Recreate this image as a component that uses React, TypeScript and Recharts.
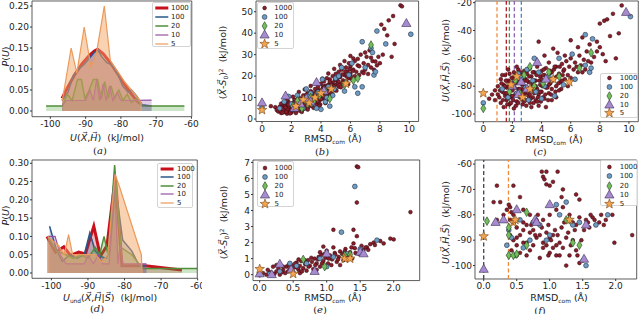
import React from 'react';
import {
  ComposedChart,
  ScatterChart,
  Area,
  Scatter,
  XAxis,
  YAxis,
  ReferenceArea,
  ReferenceLine,
  Legend,
} from 'recharts';

type Pt = [number, number];

const SERIES = ['1000', '100', '20', '10', '5'];

// (a) P(U) for U(X,H)
const A_1000: Pt[] = [[-96.7, 0.03], [-95, 0.058], [-93, 0.088], [-91, 0.113], [-89, 0.132], [-87.5, 0.143], [-86.6, 0.147], [-85, 0.136], [-83, 0.115], [-81, 0.09], [-79, 0.064], [-77, 0.04], [-75.5, 0.024], [-74.5, 0.018]];
const A_100: Pt[] = [[-96.7, 0.025], [-95, 0.045], [-93.5, 0.085], [-92, 0.1], [-90.5, 0.11], [-89, 0.125], [-87.5, 0.14], [-86.5, 0.145], [-85.5, 0.13], [-84, 0.115], [-82.5, 0.11], [-81, 0.09], [-79.5, 0.06], [-78, 0.045], [-77, 0.05], [-75.5, 0.035], [-74, 0.015], [-71.3, 0.012]];
const A_20: Pt[] = [[-101.2, 0.012], [-96.6, 0.012], [-95.2, 0.04], [-93.8, 0.025], [-92.3, 0.075], [-91.2, 0.075], [-90.2, 0.03], [-89, 0.05], [-87.8, 0.075], [-86.6, 0.075], [-85.6, 0.028], [-84.6, 0.07], [-83.6, 0.03], [-82.8, 0.06], [-81.8, 0.03], [-80.6, 0.05], [-79.4, 0.025], [-78.2, 0.04], [-77, 0.02], [-75.5, 0.03], [-74, 0.012], [-62, 0.012]];
const A_10: Pt[] = [[-96.6, 0.012], [-95.5, 0.025], [-90, 0.025], [-88.8, 0.05], [-87.8, 0.025], [-86.9, 0.075], [-86, 0.025], [-85, 0.065], [-84.2, 0.025], [-83.2, 0.06], [-82.3, 0.025], [-81, 0.045], [-80, 0.025], [-71.3, 0.026]];
const A_5: Pt[] = [[-96.6, 0.025], [-94.1, 0.15], [-92.5, 0.09], [-90.4, 0.2], [-88.5, 0.105], [-87, 0.135], [-84.7, 0.25], [-83, 0.12], [-81, 0.095], [-79, 0.07], [-77, 0.05], [-75, 0.03], [-74, 0.015]];

// (d) P(U) for U_und(X,H|S)
const D_1000: Pt[] = [[-101.2, 0.1], [-98.9, 0.057], [-96.6, 0.072], [-94.8, 0.048], [-92.5, 0.057], [-90.7, 0.052], [-88.4, 0.128], [-86.6, 0.046], [-84.8, 0.075], [-82.5, 0.262], [-80.7, 0.02], [-74.3, 0.02], [-64.3, 0.008]];
const D_100: Pt[] = [[-100.5, 0.128], [-98.5, 0.06], [-97, 0.032], [-95, 0.05], [-93, 0.04], [-91, 0.05], [-89.5, 0.11], [-88, 0.06], [-86.5, 0.045], [-85, 0.04], [-84, 0.06], [-82.5, 0.24], [-80.5, 0.09], [-78, 0.06], [-76, 0.02], [-74, 0.02]];
const D_20: Pt[] = [[-101, 0.1], [-98.5, 0.06], [-96, 0.05], [-94, 0.04], [-92, 0.05], [-90, 0.04], [-88, 0.07], [-86.8, 0.05], [-85.6, 0.1], [-84.5, 0.05], [-82.7, 0.295], [-81, 0.07], [-78, 0.05], [-75, 0.012], [-60.1, 0.012]];
const D_10: Pt[] = [[-101, 0.1], [-99, 0.1], [-97.5, 0.05], [-96, 0.025], [-91, 0.025], [-90, 0.05], [-88.5, 0.025], [-87.2, 0.05], [-86, 0.025], [-84.2, 0.025], [-82.8, 0.27], [-81.8, 0.025], [-81.2, 0.075], [-80.4, 0.025], [-74, 0.025]];
const D_5: Pt[] = [[-101, 0.1], [-98, 0.075], [-96.5, 0.05], [-95.3, 0.105], [-94.2, 0.05], [-90, 0.05], [-88, 0.05], [-86.2, 0.03], [-84.6, 0.05], [-82.6, 0.27], [-81.5, 0.24], [-75.4, 0.05], [-75.2, 0.0]];

// (b) (X-S0)^2 vs RMSD
const B_1000: Pt[] = [
  [0.6, 6], [0.9, 5.5], [1.0, 4.2], [1.1, 3.5], [1.2, 5.8], [1.3, 2.8], [1.3, 4.5], [1.4, 6.5], [1.5, 3.2], [1.5, 5],
  [1.6, 4], [1.6, 7], [1.7, 2.5], [1.7, 5.5], [1.8, 3.8], [1.8, 8], [1.9, 4.8], [1.9, 6.5], [2.0, 3], [2.0, 5.6],
  [2.1, 7.5], [2.1, 4.2], [2.2, 9], [2.2, 6], [2.3, 3.5], [2.3, 5], [2.4, 8.2], [2.4, 6.8], [2.5, 4.6], [2.5, 10],
  [2.6, 7], [2.6, 5.5], [2.7, 9.5], [2.7, 4], [2.8, 8], [2.8, 11], [2.9, 6], [2.9, 7.5], [3.0, 9], [3.0, 5],
  [3.1, 12], [3.1, 8.5], [3.2, 6.5], [3.2, 10.5], [3.3, 7.8], [3.3, 13], [3.4, 9.5], [3.4, 6], [3.5, 11], [3.5, 8],
  [3.6, 14], [3.6, 9.8], [3.7, 7], [3.7, 12.5], [3.8, 10.5], [3.8, 15], [3.9, 8.5], [3.9, 13.5], [4.0, 11], [4.0, 16.5],
  [4.1, 9.5], [4.1, 14], [4.2, 12], [4.2, 17.5], [4.3, 10], [4.3, 15.5], [4.4, 13], [4.4, 19], [4.5, 11.5], [4.5, 16],
  [4.6, 14.5], [4.6, 18.5], [4.7, 12.5], [4.8, 17], [4.8, 20], [4.9, 13.5], [5.0, 16], [5.0, 21], [5.1, 18], [5.2, 15],
  [5.2, 22], [5.3, 19.5], [5.4, 16.5], [5.4, 23], [5.5, 18], [5.6, 20.5], [5.7, 24], [5.7, 17.5], [5.8, 22], [5.9, 19],
  [5.9, 26], [6.0, 21], [6.0, 24.5], [6.1, 18.5], [6.2, 23], [6.3, 27], [6.3, 20], [6.4, 22], [6.5, 25], [6.5, 28],
  [6.6, 20.5], [6.7, 30], [6.8, 22], [6.9, 26], [7.0, 31], [7.0, 23], [7.1, 29], [7.2, 21], [7.3, 32], [7.4, 24],
  [7.5, 27], [7.6, 23], [7.8, 25], [7.9, 29], [8.0, 26], [8.1, 44], [8.2, 30], [8.3, 42], [8.5, 39], [8.6, 46],
  [8.8, 29], [8.9, 48], [9.0, 35], [9.4, 53], [9.5, 52.5],
  [1.25, 3.8], [1.35, 5.2], [1.45, 4.2], [1.55, 6], [1.65, 3.4], [1.75, 4.6], [1.85, 5.8], [1.95, 3.6], [2.05, 6.8], [2.15, 5.1],
  [2.25, 4.0], [2.35, 7.2], [2.45, 5.6], [2.55, 3.9], [2.65, 8.6], [2.75, 6.2], [2.85, 4.8], [2.95, 10.2], [3.05, 7.2], [3.15, 5.6],
  [3.25, 9.2], [3.35, 11.6], [3.45, 7.4], [3.55, 9.8], [3.65, 12.2], [3.75, 8.2], [3.85, 10.9], [3.95, 6.8], [4.05, 12.8], [4.15, 15.2],
  [4.25, 10.8], [4.35, 13.6], [4.45, 9.2], [4.55, 14.2], [4.65, 16.8], [4.75, 11.2], [4.85, 15.4], [4.95, 18.2], [5.05, 13.2], [5.15, 16.6],
  [5.25, 19.8], [5.35, 14.8], [5.45, 20.8], [5.55, 17.2], [5.65, 22.2], [5.75, 19.8], [5.85, 16.2], [5.95, 23.2], [6.05, 19.6], [6.15, 22.4],
  [1.4, 3.0], [1.6, 5.4], [1.8, 6.6], [2.0, 4.4], [2.2, 7.8], [2.4, 4.8], [2.6, 9.2], [2.8, 6.6], [3.0, 11.4], [3.2, 8.2],
  [3.4, 12.4], [3.6, 7.8], [3.8, 13.2], [4.0, 9.4], [4.2, 14.6], [4.4, 11.6], [4.6, 17.4], [4.8, 14.6], [5.0, 18.6], [5.2, 17.4],
  [1.9, 2.6], [2.3, 2.8], [2.7, 3.3], [3.1, 4.4], [3.5, 5.2], [3.9, 6.2], [4.3, 7.4], [1.3, 7.2], [1.7, 8.8], [2.1, 10.4],
  [2.5, 12.6], [2.9, 13.8], [3.3, 15.4], [3.7, 16.6], [4.1, 18.8], [4.5, 21.2], [4.9, 23.4], [5.3, 25.2], [6.6, 24.6], [6.9, 21.4],
  [7.2, 25.2], [7.4, 28.6], [7.7, 26.8], [6.2, 28.2], [6.0, 29.4], [5.6, 27.0],
];
const B_100: Pt[] = [
  [0, 5.5], [1.2, 5], [1.5, 8], [1.8, 10.5], [2.0, 7], [2.2, 6.5], [2.5, 9], [2.8, 5], [3.0, 14], [3.2, 11],
  [3.4, 7], [3.6, 9.5], [3.8, 12.5], [4.0, 4.5], [4.1, 18.5], [4.3, 8], [4.5, 15], [4.6, 6], [4.8, 11], [4.9, 14],
  [5.0, 19], [5.2, 20], [5.4, 24], [5.6, 13], [5.7, 17], [5.9, 20.5], [6.1, 26], [6.3, 15], [6.5, 12], [6.8, 15],
  [6.8, 36], [7.0, 24], [7.4, 33], [7.5, 31], [7.6, 20.5], [7.7, 22], [7.8, 41], [8.4, 35], [10.1, 39.5], [3.3, 12],
  [2.4, 11], [3.7, 5], [4.4, 10],
];
const B_20: Pt[] = [[2.1, 6], [2.4, 8.5], [2.7, 5], [2.9, 9], [3.1, 7], [3.3, 10], [3.5, 8], [3.9, 11], [4.3, 13], [4.6, 9.5], [5.6, 16], [6.2, 18], [6.5, 19], [7.4, 34.5]];
const B_10: Pt[] = [[0, 7.5], [1.6, 10.7], [2.2, 5], [2.6, 7], [3.0, 9.5], [3.3, 8], [3.7, 17], [4.2, 13], [9.8, 44.5]];
const B_5: Pt[] = [[0, 4.2], [2.3, 6], [2.8, 9], [3.2, 7.5], [3.6, 10], [4.0, 12], [4.7, 14], [5.7, 16.5]];

// (c) U(X,H,S) vs RMSD
const C_1000: Pt[] = [
  [0.4, -89], [0.6, -86], [0.8, -83], [1.0, -80], [1.1, -88], [1.2, -75], [1.2, -92], [1.3, -84], [1.4, -79], [1.4, -95],
  [1.5, -72], [1.5, -87], [1.6, -81], [1.6, -90], [1.7, -76], [1.7, -85], [1.8, -71], [1.8, -93], [1.9, -79], [1.9, -88],
  [2.0, -74], [2.0, -83], [2.1, -96], [2.1, -70], [2.2, -86], [2.2, -78], [2.3, -91], [2.3, -73], [2.4, -82], [2.4, -68],
  [2.5, -88], [2.5, -77], [2.6, -72], [2.6, -84], [2.7, -93], [2.7, -79], [2.8, -69], [2.8, -86], [2.9, -75], [2.9, -90],
  [3.0, -81], [3.0, -71], [3.1, -87], [3.1, -77], [3.2, -67], [3.2, -92], [3.3, -83], [3.3, -73], [3.4, -79], [3.4, -88],
  [3.5, -70], [3.5, -85], [3.6, -76], [3.6, -90], [3.7, -82], [3.7, -66], [3.8, -48], [3.8, -86], [3.9, -73], [3.9, -79],
  [4.0, -69], [4.0, -84], [4.1, -77], [4.1, -88], [4.2, -58], [4.2, -72], [4.3, -81], [4.3, -67], [4.4, -75], [4.5, -85],
  [4.5, -63], [4.6, -78], [4.7, -70], [4.7, -82], [4.8, -53], [4.9, -74], [5.0, -66], [5.0, -80], [5.1, -56], [5.2, -71],
  [5.3, -77], [5.4, -64], [5.5, -69], [5.6, -58], [5.6, -75], [5.7, -62], [5.8, -72], [5.9, -66], [6.0, -47], [6.0, -60],
  [6.2, -68], [6.3, -63], [6.5, -52], [6.5, -70], [6.6, -58], [6.7, -65], [6.8, -45], [6.9, -61], [7.0, -68], [7.1, -55],
  [7.3, -50], [7.4, -63], [7.6, -59], [7.8, -48], [7.8, -55], [8.0, -52], [8.0, -35], [8.2, -57], [8.3, -33], [8.4, -62],
  [8.5, -32], [8.7, -44], [8.9, -28], [9.1, -60], [9.3, -42], [9.5, -22],
  [1.15, -83], [1.25, -78], [1.35, -90], [1.45, -85], [1.55, -76], [1.65, -93], [1.75, -80], [1.85, -87], [1.95, -74], [2.05, -90],
  [2.15, -81], [2.25, -94], [2.35, -77], [2.45, -85], [2.55, -70], [2.65, -89], [2.75, -82], [2.85, -76], [2.95, -94], [3.05, -85],
  [3.15, -73], [3.25, -89], [3.35, -78], [3.45, -92], [3.55, -81], [3.65, -72], [3.75, -88], [3.85, -76], [3.95, -91], [4.05, -80],
  [4.15, -68], [4.25, -86], [4.35, -74], [4.45, -90], [4.55, -71], [4.65, -86], [4.75, -76], [4.85, -68], [4.95, -84], [5.05, -73],
  [5.15, -78], [5.25, -66], [5.35, -82], [5.45, -72], [5.55, -68], [1.3, -72], [1.5, -80], [1.7, -68], [1.9, -92], [2.1, -77],
  [2.3, -66], [2.5, -82], [2.7, -74], [2.9, -84], [3.1, -68], [3.3, -95], [3.5, -76], [3.7, -91], [3.9, -84], [4.1, -72],
  [4.3, -95], [4.5, -79], [4.7, -90], [4.9, -66], [1.6, -85], [1.8, -77], [2.0, -87], [2.2, -73], [2.4, -92], [2.6, -78],
  [2.8, -91], [3.0, -76], [3.2, -86], [3.4, -70], [3.6, -80], [3.8, -94], [4.0, -75], [4.2, -89], [4.4, -81], [4.6, -69],
  [5.0, -88], [5.2, -83], [5.4, -76], [5.8, -80], [6.0, -74], [6.4, -66], [6.8, -70], [7.2, -62], [1.0, -86], [0.8, -90],
];
const C_100: Pt[] = [
  [0, -92], [1.3, -82], [1.7, -88], [2.0, -79], [2.3, -85], [2.6, -74], [2.9, -81], [3.1, -90], [3.4, -76], [3.6, -84],
  [3.8, -70], [4.0, -89], [4.2, -80], [4.5, -73], [4.9, -87], [5.2, -60], [5.5, -79], [3.5, -60], [6.1, -57], [6.3, -75],
  [7.0, -43], [7.0, -65], [7.3, -70], [7.5, -46], [7.4, -67], [10.1, -30], [2.4, -71], [3.0, -68],
];
const C_20: Pt[] = [[0, -96], [1.8, -84], [2.2, -76], [2.5, -85], [2.8, -72], [3.2, -66], [3.5, -80], [4.1, -78], [4.5, -70], [5.2, -73], [6.6, -67], [7.4, -56]];
const C_10: Pt[] = [[2.0, -80], [2.4, -86], [2.6, -77], [3.0, -82], [3.7, -63], [4.3, -75], [9.8, -27]];
const C_5: Pt[] = [[0, -85], [1.9, -79], [2.3, -73], [2.7, -88], [3.2, -82], [4.8, -75], [5.9, -77]];
const C_CUTS = [0.94, 1.58, 1.79, 2.13, 2.61];

// (e) (X-S0)^2 vs RMSD, small set
const E_1000: Pt[] = [
  [0.05, 0.1], [0.1, 0.0], [0.15, 0.15], [0.2, 0.5], [0.22, 0.05], [0.25, 0.2], [0.3, 0.0], [0.35, 0.3], [0.38, 0.1], [0.4, 0.5],
  [0.42, 0.2], [0.45, 0.35], [0.48, 0.6], [0.5, 0.15], [0.52, 0.45], [0.55, 0.75], [0.58, 0.3], [0.6, 0.55], [0.62, 0.85], [0.65, 0.4],
  [0.68, 0.65], [0.7, 0.25], [0.72, 0.9], [0.75, 0.55], [0.78, 0.8], [0.8, 0.35], [0.82, 1.0], [0.85, 0.7], [0.88, 1.1], [0.9, 0.5],
  [0.92, 1.25], [0.95, 0.85], [0.95, 1.75], [0.98, 1.05], [1.0, 1.5], [1.02, 0.7], [1.05, 1.2], [1.08, 0.95], [1.1, 2.8], [1.12, 1.35],
  [1.15, 0.8], [1.18, 1.1], [1.2, 1.45], [1.25, 0.9], [1.28, 1.6], [1.3, 1.15], [1.35, 1.4], [1.38, 1.0], [1.4, 2.8], [1.4, 1.95],
  [1.42, 1.65], [1.45, 6.75], [1.47, 6.7], [1.45, 4.5], [1.45, 2.4], [1.48, 1.3], [1.52, 1.8], [1.55, 1.55], [1.6, 1.7], [1.65, 1.9],
  [1.7, 2.0], [1.72, 1.85], [1.8, 2.1], [1.85, 1.95], [1.95, 2.25], [2.0, 2.2], [2.25, 3.9], [0.35, 0.5], [0.6, 0.1], [0.85, 0.3],
  [0.12, 0.3], [0.18, 0.1], [0.28, 0.4], [0.33, 0.15], [0.43, 0.6], [0.47, 0.25], [0.53, 0.7], [0.57, 0.4], [0.63, 0.2], [0.67, 0.9],
  [0.73, 0.5], [0.77, 1.05], [0.83, 0.6], [0.87, 0.95], [0.93, 0.7], [0.97, 1.3], [1.03, 1.0], [1.07, 0.6], [1.13, 1.25], [1.17, 0.95],
  [1.23, 1.3], [1.27, 1.45], [1.33, 1.15], [1.37, 1.7], [1.43, 1.35], [1.5, 1.5], [1.58, 1.7], [1.62, 1.55], [0.25, 0.6], [0.58, 0.95],
  [0.9, 1.4], [1.1, 1.7], [1.2, 0.6],
];
const E_100: Pt[] = [[0, 0], [0.15, 0.05], [0.3, 0.2], [0.45, 0.7], [0.55, 0.55], [0.7, 0.7], [0.9, 1.0], [1.0, 0.5], [1.1, 1.1], [1.22, 2.65], [1.3, 1.3], [1.42, 5.5], [1.5, 1.6], [1.75, 2.15]];
const E_20: Pt[] = [[0.0, 0.1], [0.65, 0.95], [0.97, 0.5], [1.27, 1.2], [1.35, 1.25]];
const E_10: Pt[] = [[0.0, 0.05], [0.18, 0.0], [0.3, 0.65], [0.47, 0.3], [0.82, 0.2], [1.0, 1.3], [1.5, 1.4], [1.55, 1.3]];
const E_5: Pt[] = [[0.0, 0.35], [0.5, 0.05], [1.27, 1.0], [1.35, 1.0]];

// (f) U(X,H,S) vs RMSD, small set
const F_1000: Pt[] = [
  [0.2, -68.5], [0.45, -68.5], [0.88, -63], [0.95, -63], [1.12, -63], [0.9, -65], [0.92, -66], [0.95, -68], [1.0, -68.5], [1.05, -67],
  [1.2, -70], [1.18, -73], [1.4, -72], [1.45, -74], [0.55, -73], [0.4, -77], [0.35, -78], [0.15, -75], [0.25, -75], [0.38, -76],
  [0.45, -80], [0.6, -78], [0.7, -80], [0.8, -82], [0.9, -82], [1.0, -80], [1.1, -78], [1.2, -77], [1.3, -80], [1.35, -83],
  [1.45, -81], [1.55, -82], [1.65, -81], [1.75, -83], [1.85, -82], [1.95, -80], [1.7, -84], [1.6, -85], [1.4, -84], [0.5, -85],
  [0.55, -88], [0.6, -86], [0.65, -84], [0.7, -87], [0.75, -86], [0.8, -89], [0.85, -88], [0.9, -91], [0.95, -87], [1.0, -89],
  [1.02, -90], [1.05, -88], [1.08, -86], [1.1, -92], [1.15, -91], [1.2, -93], [1.25, -89], [1.3, -96], [1.35, -90], [1.4, -94],
  [1.45, -99], [1.0, -95], [0.85, -97], [0.75, -92], [0.6, -91], [0.5, -92], [0.42, -94], [0.38, -96], [0.4, -88], [0.45, -90],
  [0.5, -96], [1.1, -96], [1.15, -96], [1.25, -100], [1.98, -91], [2.25, -88], [0.2, -82], [0.3, -80], [0.65, -91], [0.9, -93],
  [0.4, -82], [0.42, -79], [0.5, -89], [0.55, -95], [0.6, -83], [0.7, -94], [0.72, -84], [0.78, -88], [0.82, -80], [0.88, -85],
  [0.95, -92], [0.98, -84], [1.05, -93], [1.12, -88], [1.18, -85], [1.22, -83], [1.28, -87], [1.32, -92], [1.38, -86], [1.42, -96],
  [1.5, -98], [1.48, -90], [1.52, -86], [1.58, -83], [1.62, -80], [1.68, -82], [1.78, -80], [1.82, -84], [0.65, -96], [0.98, -96],
];
const F_100: Pt[] = [[0.35, -92], [0.38, -86], [0.42, -89], [0.48, -96], [0.55, -82], [0.6, -93], [0.75, -83], [0.85, -84], [0.95, -90], [1.0, -88], [1.1, -76], [1.15, -80], [1.25, -75], [1.35, -84], [1.45, -83], [1.55, -100], [1.7, -84], [1.88, -80], [0.45, -83], [0.7, -90]];
const F_20: Pt[] = [[0.05, -82.5], [0.38, -85], [0.38, -88], [0.38, -96], [0.45, -96], [0.5, -95.5], [0.65, -79], [0.65, -92], [1.25, -82], [1.3, -82], [1.45, -92], [1.35, -91]];
const F_10: Pt[] = [[0.0, -101.5], [0.18, -83], [0.3, -82], [0.5, -78], [0.78, -82], [0.8, -83], [1.0, -76], [1.55, -84], [1.52, -97.5]];
const F_5: Pt[] = [[0.0, -88.5], [0.45, -83], [0.48, -82], [1.3, -82]];
const F_CUTS = [0.0, 0.375];

// ---- styling ----
const LINE_STYLE: Record<string, { stroke: string; fill: string; width: number; alpha: number }> = {
  '1000': { stroke: '#c8101c', fill: '#c8101c', width: 3, alpha: 0.28 },
  '100': { stroke: '#2a5788', fill: '#2a5788', width: 1.5, alpha: 0.28 },
  '20': { stroke: '#4f8f3a', fill: '#5aa845', width: 1.5, alpha: 0.3 },
  '10': { stroke: '#9350a3', fill: '#9350a3', width: 1.2, alpha: 0.28 },
  '5': { stroke: '#eb9a5c', fill: '#f3a565', width: 1.2, alpha: 0.5 },
};
const C_CUT_COLORS = ['#f08a3a', '#b0182a', '#3f9a3f', '#9260b0', '#4f80bf'];
const F_CUT_COLORS = ['#3c4452', '#f08a3a'];

const YW = 30;
const MT = 4;
const XH = 18;
const FONT = 'DejaVu Sans';
const TICK = { fontSize: 9, fill: '#222', fontFamily: FONT };

type Box = { x: number; y: number; w: number; h: number };
type LegendSpec = { x: number; y: number; w: number; h: number; row0: number; step: number; mx: number; tx: number };

function starPath(cx: number, cy: number, r: number) {
  const pts: string[] = [];
  for (let i = 0; i < 10; i++) {
    const rad = i % 2 === 0 ? r : r * 0.42;
    const a = -Math.PI / 2 + (i * Math.PI) / 5;
    pts.push(`${cx + rad * Math.cos(a)},${cy + rad * Math.sin(a)}`);
  }
  return `M${pts.join('L')}Z`;
}

function marker(name: string) {
  return (p: any) => {
    const { cx, cy } = p;
    if (cx == null || cy == null) return <g />;
    switch (name) {
      case '1000':
        return <circle cx={cx} cy={cy} r={1.9} fill="#8b1d2b" stroke="#2b0a0f" strokeWidth={0.5} />;
      case '100':
        return <circle cx={cx} cy={cy} r={2.4} fill="#6f9cc4" stroke="#1f2d42" strokeWidth={0.6} />;
      case '20':
        return (
          <polygon
            points={`${cx},${cy - 4.3} ${cx + 2.5},${cy} ${cx},${cy + 4.3} ${cx - 2.5},${cy}`}
            fill="#72bd5c"
            stroke="#24401c"
            strokeWidth={0.6}
          />
        );
      case '10':
        return (
          <polygon
            points={`${cx},${cy - 5} ${cx + 4.6},${cy + 3} ${cx - 4.6},${cy + 3}`}
            fill="#a78bd0"
            stroke="#3b2b52"
            strokeWidth={0.6}
          />
        );
      default:
        return <path d={starPath(cx, cy, 5)} fill="#f2a451" stroke="#7a4714" strokeWidth={0.6} />;
    }
  };
}

function LegendBox({ kind, spec }: { kind: 'line' | 'marker'; spec: LegendSpec }) {
  return (
    <div
      style={{
        width: spec.w,
        height: spec.h,
        boxSizing: 'border-box',
        border: '1px solid #d4d4d4',
        borderRadius: 2,
        background: 'rgba(255,255,255,0.85)',
        position: 'relative',
        fontFamily: FONT,
        fontSize: 7,
        color: '#222',
      }}
    >
      {SERIES.map((s, i) => (
        <div key={s} style={{ position: 'absolute', left: 0, top: spec.row0 + i * spec.step - 6, width: spec.w, height: 12 }}>
          <svg width={spec.w} height={12} style={{ position: 'absolute', left: 0, top: 0, overflow: 'visible' }}>
            {kind === 'line' ? (
              <line
                x1={spec.mx}
                x2={spec.mx + 13}
                y1={6}
                y2={6}
                stroke={LINE_STYLE[s].stroke}
                strokeWidth={LINE_STYLE[s].width}
              />
            ) : (
              marker(s)({ cx: spec.mx, cy: 6 })
            )}
          </svg>
          <span style={{ position: 'absolute', left: spec.tx, top: 2, lineHeight: '8px' }}>{s}</span>
        </div>
      ))}
    </div>
  );
}

function mergeSeries(groups: Pt[][]) {
  const rows = new Map<number, Record<string, number>>();
  groups.forEach((pts, i) => {
    for (const [x, y] of pts) {
      const r = rows.get(x) ?? { x };
      r[`s${SERIES[i]}`] = y;
      rows.set(x, r);
    }
  });
  return [...rows.values()].sort((a, b) => a.x - b.x);
}

const fmt2 = (v: number) => v.toFixed(2);
const fmt1 = (v: number) => v.toFixed(1);
const fmt0 = (v: number) => String(v);

interface PanelProps {
  box: Box;
  xDomain: [number, number];
  yDomain: [number, number];
  xTicks: number[];
  yTicks: number[];
  xFmt: (v: number) => string;
  yFmt: (v: number) => string;
  groups: Pt[][];
  legend: LegendSpec;
  mr?: number;
  cuts?: number[];
  cutColors?: string[];
}

const axisCommon = {
  allowDataOverflow: true,
  interval: 0 as const,
  tickSize: 2,
  tickMargin: 1,
  axisLine: false,
  tickLine: { stroke: '#333' },
  tick: TICK,
};

function HistPanel({ box, xDomain, yDomain, xTicks, yTicks, xFmt, yFmt, groups, legend, mr = 3 }: PanelProps) {
  const table = mergeSeries(groups);
  const left = box.x - YW;
  const top = box.y - MT;
  return (
    <div style={{ position: 'absolute', left, top }}>
      <ComposedChart width={YW + box.w + mr} height={MT + box.h + XH} data={table} margin={{ top: MT, right: mr, left: 0, bottom: 0 }}>
        <XAxis type="number" dataKey="x" domain={xDomain} ticks={xTicks} height={XH} tickFormatter={xFmt} {...axisCommon} tickMargin={2} />
        <YAxis type="number" domain={yDomain} ticks={yTicks} width={YW} tickFormatter={yFmt} {...axisCommon} />
        {SERIES.map((s) => (
          <Area
            key={s}
            type="linear"
            dataKey={`s${s}`}
            connectNulls
            stroke={LINE_STYLE[s].stroke}
            strokeWidth={LINE_STYLE[s].width}
            fill={LINE_STYLE[s].fill}
            fillOpacity={LINE_STYLE[s].alpha}
            dot={false}
            activeDot={false}
            isAnimationActive={false}
          />
        ))}
        <ReferenceArea x1={xDomain[0]} x2={xDomain[1]} y1={yDomain[0]} y2={yDomain[1]} fill="none" stroke="#333" strokeWidth={0.8} />
        <Legend
          layout="vertical"
          align="center"
          verticalAlign="middle"
          content={() => <LegendBox kind="line" spec={legend} />}
          wrapperStyle={{ left: legend.x - left, top: legend.y - top, width: legend.w, height: legend.h }}
        />
      </ComposedChart>
    </div>
  );
}

function ScatterPanel({ box, xDomain, yDomain, xTicks, yTicks, xFmt, yFmt, groups, legend, mr = 3, cuts = [], cutColors = [] }: PanelProps) {
  const left = box.x - YW;
  const top = box.y - MT;
  return (
    <div style={{ position: 'absolute', left, top }}>
      <ScatterChart width={YW + box.w + mr} height={MT + box.h + XH} margin={{ top: MT, right: mr, left: 0, bottom: 0 }}>
        <XAxis type="number" dataKey="x" domain={xDomain} ticks={xTicks} height={XH} tickFormatter={xFmt} {...axisCommon} tickMargin={2} />
        <YAxis type="number" dataKey="y" domain={yDomain} ticks={yTicks} width={YW} tickFormatter={yFmt} {...axisCommon} />
        {cuts.map((c, i) => (
          <ReferenceLine key={i} x={c} stroke={cutColors[i]} strokeWidth={1.3} strokeDasharray="4 2.5" />
        ))}
        {SERIES.map((s, i) => (
          <Scatter key={s} name={s} data={groups[i].map(([x, y]) => ({ x, y }))} shape={marker(s)} isAnimationActive={false} />
        ))}
        <ReferenceArea x1={xDomain[0]} x2={xDomain[1]} y1={yDomain[0]} y2={yDomain[1]} fill="none" stroke="#333" strokeWidth={0.8} />
        <Legend
          layout="vertical"
          align="center"
          verticalAlign="middle"
          content={() => <LegendBox kind="marker" spec={legend} />}
          wrapperStyle={{ left: legend.x - left, top: legend.y - top, width: legend.w, height: legend.h }}
        />
      </ScatterChart>
    </div>
  );
}

const V = '\u20D7';
const subStyle: React.CSSProperties = { fontSize: '0.62em', position: 'relative', top: '0.35em' };
const supStyle: React.CSSProperties = { fontSize: '0.62em', position: 'relative', top: '-0.45em' };

function Label({ x, y, rotate, size = 9.5, children }: { x: number; y: number; rotate?: boolean; size?: number; children: React.ReactNode }) {
  const lh = Math.round(size + 1);
  return (
    <div
      style={{
        position: 'absolute',
        left: x,
        top: y - lh / 2,
        height: lh,
        transform: rotate ? 'translateX(-50%) rotate(-90deg)' : 'translateX(-50%)',
        transformOrigin: '50% 50%',
        whiteSpace: 'nowrap',
        fontFamily: FONT,
        fontSize: size,
        color: '#222',
        lineHeight: `${lh}px`,
      }}
    >
      {children}
    </div>
  );
}

const Caption = ({ x, y, letter }: { x: number; y: number; letter: string }) => (
  <Label x={x} y={y} size={10}>
    <span style={{ fontFamily: 'DejaVu Serif' }}>
      (<i>{letter}</i>)
    </span>
  </Label>
);

const RMSD = (
  <>
    RMSD<span style={subStyle}>com</span> (Å)
  </>
);
const DIST = (
  <>
    (<i>X{V}</i>-<i>S{V}</i><span style={subStyle}>0</span>)<span style={supStyle}>2</span>&nbsp;&nbsp;(kJ/mol)
  </>
);
const UXHS = (
  <>
    <i>U</i>(<i>X{V}</i>,<i>H{V}</i>,<i>S{V}</i>)&nbsp;&nbsp;(kJ/mol)
  </>
);
const PU = (
  <>
    <i>P</i>(<i>U</i>)
  </>
);

export default function App() {
  return (
    <div style={{ position: 'absolute', left: 0, top: 0, width: 640, height: 314, background: '#fff', overflow: 'hidden' }}>
      <HistPanel
        box={{ x: 31.7, y: 1, w: 159.8, h: 115.7 }}
        mr={14}
        xDomain={[-105.2, -59.9]}
        yDomain={[-0.0136, 0.262]}
        xTicks={[-100, -90, -80, -70, -60]}
        yTicks={[0, 0.05, 0.1, 0.15, 0.2, 0.25]}
        xFmt={fmt0}
        yFmt={fmt2}
        groups={[A_1000, A_100, A_20, A_10, A_5]}
        legend={{ x: 151.7, y: 1.7, w: 39, h: 45, row0: 5.6, step: 8.85, mx: 2.3, tx: 18.3 }}
      />
      <ScatterPanel
        box={{ x: 255.7, y: 1, w: 162.6, h: 120.5 }}
        xDomain={[-0.41, 10.63]}
        yDomain={[-1.16, 55]}
        xTicks={[0, 2, 4, 6, 8, 10]}
        yTicks={[0, 10, 20, 30, 40, 50]}
        xFmt={fmt0}
        yFmt={fmt0}
        groups={[B_1000, B_100, B_20, B_10, B_5]}
        legend={{ x: 256.7, y: 1.7, w: 37.6, h: 47.6, row0: 5, step: 9.15, mx: 6.6, tx: 16.6 }}
      />
      <ScatterPanel
        box={{ x: 475, y: 1, w: 163.3, h: 120.7 }}
        mr={1}
        xDomain={[-0.57, 10.64]}
        yDomain={[-105.5, -18.8]}
        xTicks={[0, 2, 4, 6, 8, 10]}
        yTicks={[-100, -80, -60, -40, -20]}
        xFmt={fmt0}
        yFmt={fmt0}
        groups={[C_1000, C_100, C_20, C_10, C_5]}
        cuts={C_CUTS}
        cutColors={C_CUT_COLORS}
        legend={{ x: 600.3, y: 72.7, w: 37.4, h: 45.6, row0: 4.6, step: 8.75, mx: 8.4, tx: 18.4 }}
      />
      <HistPanel
        box={{ x: 31.7, y: 159.7, w: 165.3, h: 118.3 }}
        mr={5}
        xDomain={[-105.3, -60.1]}
        yDomain={[-0.0145, 0.309]}
        xTicks={[-100, -90, -80, -70, -60]}
        yTicks={[0, 0.05, 0.1, 0.15, 0.2, 0.25, 0.3]}
        xFmt={fmt0}
        yFmt={fmt2}
        groups={[D_1000, D_100, D_20, D_10, D_5]}
        legend={{ x: 156.7, y: 163, w: 36, h: 44.7, row0: 5, step: 8.5, mx: 2.6, tx: 19.3 }}
      />
      <ScatterPanel
        box={{ x: 253.3, y: 159.7, w: 166.7, h: 120.6 }}
        xDomain={[-0.1, 2.388]}
        yDomain={[-0.37, 7.15]}
        xTicks={[0, 0.5, 1, 1.5, 2]}
        yTicks={[0, 1, 2, 3, 4, 5, 6, 7]}
        xFmt={fmt1}
        yFmt={fmt0}
        groups={[E_1000, E_100, E_20, E_10, E_5]}
        legend={{ x: 257.5, y: 161.5, w: 37, h: 46, row0: 5.5, step: 9, mx: 7, tx: 16 }}
      />
      <ScatterPanel
        box={{ x: 475, y: 160, w: 161.7, h: 119 }}
        xDomain={[-0.132, 2.318]}
        yDomain={[-105.3, -58.4]}
        xTicks={[0, 0.5, 1, 1.5, 2]}
        yTicks={[-100, -90, -80, -70, -60]}
        xFmt={fmt1}
        yFmt={fmt0}
        groups={[F_1000, F_100, F_20, F_10, F_5]}
        cuts={F_CUTS}
        cutColors={F_CUT_COLORS}
        legend={{ x: 600.3, y: 159.7, w: 37.4, h: 46.6, row0: 6.6, step: 9.2, mx: 8.4, tx: 18.4 }}
      />

      {/* axis titles and captions */}
      <Label x={5} y={56} rotate>{PU}</Label>
      <Label x={107} y={137}>
        <i>U</i>(<i>X{V}</i>,<i>H{V}</i>)&nbsp;&nbsp;(kJ/mol)
      </Label>
      <Caption x={100} y={150} letter="a" />

      <Label x={222} y={62} rotate>{DIST}</Label>
      <Label x={333} y={138}>{RMSD}</Label>
      <Caption x={322} y={151} letter="b" />

      <Label x={445} y={60} rotate>{UXHS}</Label>
      <Label x={554} y={139}>{RMSD}</Label>
      <Caption x={540} y={151.5} letter="c" />

      <Label x={5} y={215} rotate>{PU}</Label>
      <Label x={110} y={297}>
        <i>U</i>
        <span style={subStyle}>und</span>(<i>X{V}</i>,<i>H{V}</i>|<i>S{V}</i>)&nbsp;&nbsp;(kJ/mol)
      </Label>
      <Caption x={97} y={308} letter="d" />

      <Label x={223} y={222} rotate>{DIST}</Label>
      <Label x={333} y={297}>{RMSD}</Label>
      <Caption x={320} y={309} letter="e" />

      <Label x={445} y={222} rotate>{UXHS}</Label>
      <Label x={559} y={297}>{RMSD}</Label>
      <Caption x={540} y={310} letter="f" />
    </div>
  );
}
